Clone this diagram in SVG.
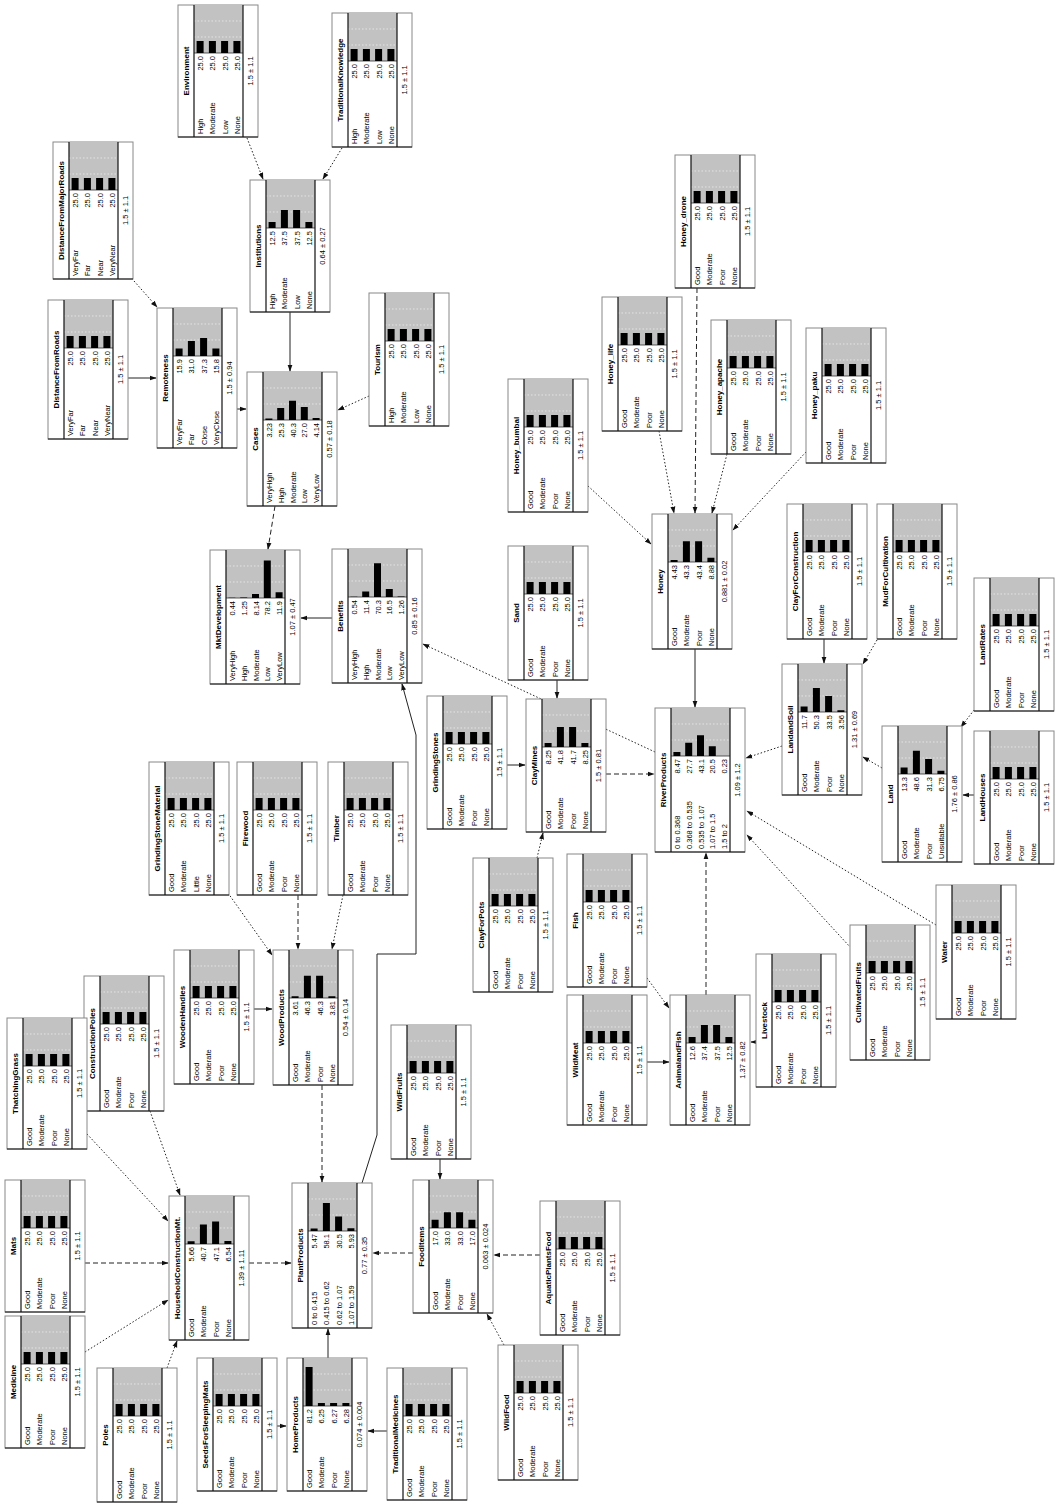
<svg xmlns="http://www.w3.org/2000/svg" width="1055" height="1504" viewBox="0 0 1055 1504">
<style>
.box{fill:#fff;stroke:#888;stroke-width:1}
.sep{fill:none;stroke:#111;stroke-width:1.2}
.hist{fill:#c2c2c2}
.grid{stroke:#ececec;stroke-width:.8;stroke-dasharray:1.5 2;fill:none}
.base{stroke:#333;stroke-width:.8;fill:none}
.bar{fill:#000}
text{font-family:"Liberation Sans",Arial,sans-serif;font-size:7.5px;fill:#000}
.t{font-weight:bold;font-size:8px;text-anchor:middle}
.v{text-anchor:end}
.s{text-anchor:start}
.m{text-anchor:middle}
.c{fill:none;stroke:#222;stroke-width:1;marker-end:url(#ah)}
.dash{stroke-dasharray:5 3}
.dot{stroke-dasharray:1.5 2}
</style>
<defs>
<marker id="ah" viewBox="0 0 10 10" refX="9" refY="5" markerWidth="7" markerHeight="7" markerUnits="userSpaceOnUse" orient="auto"><path d="M0 1.5L10 5L0 8.5z" fill="#111"/></marker>
<g id="h4"><rect class="hist" x="16" width="49" height="48"/><path class="grid" d="M16 16h49M16 32h49"/><path class="base" d="M16 48h49"/></g>
<g id="h5"><rect class="hist" x="16" width="59" height="48"/><path class="grid" d="M16 16h59M16 32h59"/><path class="base" d="M16 48h59"/></g>
<path id="b25" class="bar" d="M18.6 36h7v12h-7zM30.9 36h7v12h-7zM43.1 36h7v12h-7zM55.4 36h7v12h-7z"/>
<g id="v25"><text class="v" transform="translate(25.1,51) rotate(-90)">25.0</text><text class="v" transform="translate(37.4,51) rotate(-90)">25.0</text><text class="v" transform="translate(49.6,51) rotate(-90)">25.0</text><text class="v" transform="translate(61.9,51) rotate(-90)">25.0</text></g>
<g id="sGMPN"><text class="s" transform="translate(25.1,0) rotate(-90)">Good</text><text class="s" transform="translate(37.4,0) rotate(-90)">Moderate</text><text class="s" transform="translate(49.6,0) rotate(-90)">Poor</text><text class="s" transform="translate(61.9,0) rotate(-90)">None</text></g>
<g id="sHMLN"><text class="s" transform="translate(25.1,0) rotate(-90)">High</text><text class="s" transform="translate(37.4,0) rotate(-90)">Moderate</text><text class="s" transform="translate(49.6,0) rotate(-90)">Low</text><text class="s" transform="translate(61.9,0) rotate(-90)">None</text></g>
<g id="sVFN"><text class="s" transform="translate(25.1,0) rotate(-90)">VeryFar</text><text class="s" transform="translate(37.4,0) rotate(-90)">Far</text><text class="s" transform="translate(49.6,0) rotate(-90)">Near</text><text class="s" transform="translate(61.9,0) rotate(-90)">VeryNear</text></g>
<g id="sGMLN"><text class="s" transform="translate(25.1,0) rotate(-90)">Good</text><text class="s" transform="translate(37.4,0) rotate(-90)">Moderate</text><text class="s" transform="translate(49.6,0) rotate(-90)">Little</text><text class="s" transform="translate(61.9,0) rotate(-90)">None</text></g>
<g id="s5"><text class="s" transform="translate(24.9,0) rotate(-90)">VeryHigh</text><text class="s" transform="translate(36.7,0) rotate(-90)">High</text><text class="s" transform="translate(48.5,0) rotate(-90)">Moderate</text><text class="s" transform="translate(60.3,0) rotate(-90)">Low</text><text class="s" transform="translate(72.1,0) rotate(-90)">VeryLow</text></g>
</defs>
<rect width="1055" height="1504" fill="#fff"/>

<g id="connectors">
<path class="c dot" d="M247 138L263 179"/>
<path class="c dot" d="M342 148L323 179"/>
<path class="c dot" d="M134 281L157 307"/>
<path class="c" d="M290 312V371"/>
<path class="c" d="M128 378H156"/>
<path class="c" d="M237 409H246"/>
<path class="c dot" d="M369 396L338 410"/>
<path class="c dash" d="M275 506L268 549"/>
<path class="c" d="M332 618H301"/>
<path class="c dot" d="M655 752L423 644"/>
<path class="c" d="M362 1183L377 1135V954H416V735L402 684"/>
<path class="c" d="M557 680V698"/>
<path class="c" d="M507 765H525"/>
<path class="c dash" d="M606 774H654"/>
<path class="c dot" d="M537 858L543 833"/>
<path class="c dot" d="M588 486L651 544"/>
<path class="c dot" d="M659 431L674 513"/>
<path class="c dash" d="M697 288L695 513"/>
<path class="c dot" d="M727 454L712 513"/>
<path class="c dot" d="M806 452L733 530"/>
<path class="c" d="M695 649V707"/>
<path class="c" d="M824 639V663"/>
<path class="c dot" d="M877 640L863 664"/>
<path class="c dot" d="M782 746L746 758"/>
<path class="c dot" d="M974 710L961 727"/>
<path class="c dot" d="M882 768L863 757"/>
<path class="c" d="M975 795H963"/>
<path class="c dot" d="M936 925L747 811"/>
<path class="c dot" d="M851 948L747 835"/>
<path class="c dash" d="M706 995V853"/>
<path class="c dot" d="M647 978L669 1008"/>
<path class="c" d="M647 1062H669"/>
<path class="c" d="M758 1042H751"/>
<path class="c dot" d="M228 893L272 955"/>
<path class="c dash" d="M298 895V949"/>
<path class="c dot" d="M343 895L332 949"/>
<path class="c" d="M254 1009H272"/>
<path class="c dash" d="M322 1085V1182"/>
<path class="c dot" d="M150 1111L180 1195"/>
<path class="c dot" d="M87 1134L168 1221"/>
<path class="c dash" d="M85 1263H168"/>
<path class="c dot" d="M85 1352L168 1300"/>
<path class="c dot" d="M167 1368L177 1341"/>
<path class="c dash" d="M249 1263H291"/>
<path class="c" d="M277 1426H286"/>
<path class="c" d="M328 1358V1329"/>
<path class="c" d="M387 1431H368"/>
<path class="c dash" d="M413 1253H373"/>
<path class="c" d="M440 1159V1179"/>
<path class="c dash" d="M540 1255H494"/>
<path class="c dot" d="M504 1345L487 1314"/>
</g>

<g id="n-environment" transform="translate(178,5)"><rect class="box" width="80" height="132"/><use href="#h4"/><use href="#b25"/><path class="sep" d="M16 0V132M65 0V132M0 132H80"/><text class="t" transform="translate(11,66) rotate(-90)">Environment</text><use href="#v25"/><use href="#sHMLN" y="129"/><text class="m" transform="translate(75.3,66) rotate(-90)">1.5 ± 1.1</text></g>

<g id="n-traditionalknowledge" transform="translate(332,13)"><rect class="box" width="80" height="134"/><use href="#h4"/><use href="#b25"/><path class="sep" d="M16 0V134M65 0V134M0 134H80"/><text class="t" transform="translate(11,67) rotate(-90)">TraditionalKnowledge</text><use href="#v25"/><use href="#sHMLN" y="131"/><text class="m" transform="translate(75.3,67) rotate(-90)">1.5 ± 1.1</text></g>

<g id="n-distancefrommajorroads" transform="translate(53,142)"><rect class="box" width="80" height="137"/><use href="#h4"/><use href="#b25"/><path class="sep" d="M16 0V137M65 0V137M0 137H80"/><text class="t" transform="translate(11,68.5) rotate(-90)">DistanceFromMajorRoads</text><use href="#v25"/><use href="#sVFN" y="134"/><text class="m" transform="translate(75.3,68.5) rotate(-90)">1.5 ± 1.1</text></g>

<g id="n-institutions" transform="translate(250,180)"><rect class="box" width="80" height="132"/><use href="#h4"/><path class="bar" d="M18.6 42h7v6h-7zM30.9 30h7v18h-7zM43.1 30h7v18h-7zM55.4 42h7v6h-7z"/><path class="sep" d="M16 0V132M65 0V132M0 132H80"/><text class="t" transform="translate(11,66) rotate(-90)">Institutions</text><text class="v" transform="translate(25.1,51) rotate(-90)">12.5</text><text class="v" transform="translate(37.4,51) rotate(-90)">37.5</text><text class="v" transform="translate(49.6,51) rotate(-90)">37.5</text><text class="v" transform="translate(61.9,51) rotate(-90)">12.5</text><use href="#sHMLN" y="129"/><text class="m" transform="translate(75.3,66) rotate(-90)">0.64 ± 0.27</text></g>

<g id="n-distancefromroads" transform="translate(48,300)"><rect class="box" width="80" height="139"/><use href="#h4"/><use href="#b25"/><path class="sep" d="M16 0V139M65 0V139M0 139H80"/><text class="t" transform="translate(11,69.5) rotate(-90)">DistanceFromRoads</text><use href="#v25"/><use href="#sVFN" y="136"/><text class="m" transform="translate(75.3,69.5) rotate(-90)">1.5 ± 1.1</text></g>

<g id="n-remoteness" transform="translate(157,308)"><rect class="box" width="80" height="140"/><use href="#h4"/><path class="bar" d="M18.6 40.4h7v7.6h-7zM30.9 33.1h7v14.9h-7zM43.1 30.1h7v17.9h-7zM55.4 40.4h7v7.6h-7z"/><path class="sep" d="M16 0V140M65 0V140M0 140H80"/><text class="t" transform="translate(11,70) rotate(-90)">Remoteness</text><text class="v" transform="translate(25.1,51) rotate(-90)">15.9</text><text class="v" transform="translate(37.4,51) rotate(-90)">31.0</text><text class="v" transform="translate(49.6,51) rotate(-90)">37.3</text><text class="v" transform="translate(61.9,51) rotate(-90)">15.8</text><text class="s" transform="translate(25.1,137) rotate(-90)">VeryFar</text><text class="s" transform="translate(37.4,137) rotate(-90)">Far</text><text class="s" transform="translate(49.6,137) rotate(-90)">Close</text><text class="s" transform="translate(61.9,137) rotate(-90)">VeryClose</text><text class="m" transform="translate(75.3,70) rotate(-90)">1.5 ± 0.94</text></g>

<g id="n-cases" transform="translate(247,372)"><rect class="box" width="90" height="134"/><use href="#h5"/><path class="bar" d="M18.4 46.4h7v1.6h-7zM30.2 35.9h7v12.1h-7zM42 28.7h7v19.3h-7zM53.8 35h7v13h-7zM65.6 46h7v2h-7z"/><path class="sep" d="M16 0V134M75 0V134M0 134H90"/><text class="t" transform="translate(11,67) rotate(-90)">Cases</text><text class="v" transform="translate(24.9,51) rotate(-90)">3.23</text><text class="v" transform="translate(36.7,51) rotate(-90)">25.3</text><text class="v" transform="translate(48.5,51) rotate(-90)">40.3</text><text class="v" transform="translate(60.3,51) rotate(-90)">27.0</text><text class="v" transform="translate(72.1,51) rotate(-90)">4.14</text><use href="#s5" y="131"/><text class="m" transform="translate(85.3,67) rotate(-90)">0.57 ± 0.18</text></g>

<g id="n-tourism" transform="translate(369,293)"><rect class="box" width="80" height="133"/><use href="#h4"/><use href="#b25"/><path class="sep" d="M16 0V133M65 0V133M0 133H80"/><text class="t" transform="translate(11,66.5) rotate(-90)">Tourism</text><use href="#v25"/><use href="#sHMLN" y="130"/><text class="m" transform="translate(75.3,66.5) rotate(-90)">1.5 ± 1.1</text></g>

<g id="n-mktdevelopment" transform="translate(210,550)"><rect class="box" width="90" height="134"/><use href="#h5"/><path class="bar" d="M18.4 47.8h7v0.2h-7zM30.2 47.4h7v0.6h-7zM42 44.1h7v3.9h-7zM53.8 10.5h7v37.5h-7zM65.6 42.3h7v5.7h-7z"/><path class="sep" d="M16 0V134M75 0V134M0 134H90"/><text class="t" transform="translate(11,67) rotate(-90)">MktDevelopment</text><text class="v" transform="translate(24.9,51) rotate(-90)">0.44</text><text class="v" transform="translate(36.7,51) rotate(-90)">1.25</text><text class="v" transform="translate(48.5,51) rotate(-90)">8.14</text><text class="v" transform="translate(60.3,51) rotate(-90)">78.2</text><text class="v" transform="translate(72.1,51) rotate(-90)">11.9</text><use href="#s5" y="131"/><text class="m" transform="translate(85.3,67) rotate(-90)">1.07 ± 0.47</text></g>

<g id="n-benefits" transform="translate(332,549)"><rect class="box" width="90" height="134"/><use href="#h5"/><path class="bar" d="M18.4 47.7h7v0.3h-7zM30.2 42.5h7v5.5h-7zM42 14.3h7v33.7h-7zM53.8 40.1h7v7.9h-7zM65.6 47.4h7v0.6h-7z"/><path class="sep" d="M16 0V134M75 0V134M0 134H90"/><text class="t" transform="translate(11,67) rotate(-90)">Benefits</text><text class="v" transform="translate(24.9,51) rotate(-90)">0.54</text><text class="v" transform="translate(36.7,51) rotate(-90)">11.4</text><text class="v" transform="translate(48.5,51) rotate(-90)">70.3</text><text class="v" transform="translate(60.3,51) rotate(-90)">16.5</text><text class="v" transform="translate(72.1,51) rotate(-90)">1.26</text><use href="#s5" y="131"/><text class="m" transform="translate(85.3,67) rotate(-90)">0.85 ± 0.16</text></g>

<g id="n-honey-bumbal" transform="translate(508,379)"><rect class="box" width="80" height="133"/><use href="#h4"/><use href="#b25"/><path class="sep" d="M16 0V133M65 0V133M0 133H80"/><text class="t" transform="translate(11,66.5) rotate(-90)">Honey_bumbal</text><use href="#v25"/><use href="#sGMPN" y="130"/><text class="m" transform="translate(75.3,66.5) rotate(-90)">1.5 ± 1.1</text></g>

<g id="n-sand" transform="translate(508,546)"><rect class="box" width="80" height="134"/><use href="#h4"/><use href="#b25"/><path class="sep" d="M16 0V134M65 0V134M0 134H80"/><text class="t" transform="translate(11,67) rotate(-90)">Sand</text><use href="#v25"/><use href="#sGMPN" y="131"/><text class="m" transform="translate(75.3,67) rotate(-90)">1.5 ± 1.1</text></g>

<g id="n-honey-life" transform="translate(602,297)"><rect class="box" width="80" height="134"/><use href="#h4"/><use href="#b25"/><path class="sep" d="M16 0V134M65 0V134M0 134H80"/><text class="t" transform="translate(11,67) rotate(-90)">Honey_life</text><use href="#v25"/><use href="#sGMPN" y="131"/><text class="m" transform="translate(75.3,67) rotate(-90)">1.5 ± 1.1</text></g>

<g id="n-honey-drone" transform="translate(675,155)"><rect class="box" width="80" height="133"/><use href="#h4"/><use href="#b25"/><path class="sep" d="M16 0V133M65 0V133M0 133H80"/><text class="t" transform="translate(11,66.5) rotate(-90)">Honey_drone</text><use href="#v25"/><use href="#sGMPN" y="130"/><text class="m" transform="translate(75.3,66.5) rotate(-90)">1.5 ± 1.1</text></g>

<g id="n-honey-apache" transform="translate(711,320)"><rect class="box" width="80" height="134"/><use href="#h4"/><use href="#b25"/><path class="sep" d="M16 0V134M65 0V134M0 134H80"/><text class="t" transform="translate(11,67) rotate(-90)">Honey_apache</text><use href="#v25"/><use href="#sGMPN" y="131"/><text class="m" transform="translate(75.3,67) rotate(-90)">1.5 ± 1.1</text></g>

<g id="n-honey-paku" transform="translate(806,328)"><rect class="box" width="80" height="135"/><use href="#h4"/><use href="#b25"/><path class="sep" d="M16 0V135M65 0V135M0 135H80"/><text class="t" transform="translate(11,67.5) rotate(-90)">Honey_paku</text><use href="#v25"/><use href="#sGMPN" y="132"/><text class="m" transform="translate(75.3,67.5) rotate(-90)">1.5 ± 1.1</text></g>

<g id="n-honey" transform="translate(652,514)"><rect class="box" width="80" height="135"/><use href="#h4"/><path class="bar" d="M18.6 45.9h7v2.1h-7zM30.9 27.2h7v20.8h-7zM43.1 27.2h7v20.8h-7zM55.4 43.7h7v4.3h-7z"/><path class="sep" d="M16 0V135M65 0V135M0 135H80"/><text class="t" transform="translate(11,67.5) rotate(-90)">Honey</text><text class="v" transform="translate(25.1,51) rotate(-90)">4.43</text><text class="v" transform="translate(37.4,51) rotate(-90)">43.3</text><text class="v" transform="translate(49.6,51) rotate(-90)">43.4</text><text class="v" transform="translate(61.9,51) rotate(-90)">8.88</text><use href="#sGMPN" y="132"/><text class="m" transform="translate(75.3,67.5) rotate(-90)">0.881 ± 0.02</text></g>

<g id="n-clayforconstruction" transform="translate(787,504)"><rect class="box" width="80" height="135"/><use href="#h4"/><use href="#b25"/><path class="sep" d="M16 0V135M65 0V135M0 135H80"/><text class="t" transform="translate(11,67.5) rotate(-90)">ClayForConstruction</text><use href="#v25"/><use href="#sGMPN" y="132"/><text class="m" transform="translate(75.3,67.5) rotate(-90)">1.5 ± 1.1</text></g>

<g id="n-mudforcultivation" transform="translate(877,504)"><rect class="box" width="80" height="135"/><use href="#h4"/><use href="#b25"/><path class="sep" d="M16 0V135M65 0V135M0 135H80"/><text class="t" transform="translate(11,67.5) rotate(-90)">MudForCultivation</text><use href="#v25"/><use href="#sGMPN" y="132"/><text class="m" transform="translate(75.3,67.5) rotate(-90)">1.5 ± 1.1</text></g>

<g id="n-landandsoil" transform="translate(782,664)"><rect class="box" width="80" height="131"/><use href="#h4"/><path class="bar" d="M18.6 42.4h7v5.6h-7zM30.9 23.9h7v24.1h-7zM43.1 31.9h7v16.1h-7zM55.4 46.3h7v1.7h-7z"/><path class="sep" d="M16 0V131M65 0V131M0 131H80"/><text class="t" transform="translate(11,65.5) rotate(-90)">LandandSoil</text><text class="v" transform="translate(25.1,51) rotate(-90)">11.7</text><text class="v" transform="translate(37.4,51) rotate(-90)">50.3</text><text class="v" transform="translate(49.6,51) rotate(-90)">33.5</text><text class="v" transform="translate(61.9,51) rotate(-90)">3.56</text><use href="#sGMPN" y="128"/><text class="m" transform="translate(75.3,65.5) rotate(-90)">1.31 ± 0.69</text></g>

<g id="n-landrates" transform="translate(974,578)"><rect class="box" width="80" height="133"/><use href="#h4"/><use href="#b25"/><path class="sep" d="M16 0V133M65 0V133M0 133H80"/><text class="t" transform="translate(11,66.5) rotate(-90)">LandRates</text><use href="#v25"/><use href="#sGMPN" y="130"/><text class="m" transform="translate(75.3,66.5) rotate(-90)">1.5 ± 1.1</text></g>

<g id="n-land" transform="translate(882,726)"><rect class="box" width="80" height="136"/><use href="#h4"/><path class="bar" d="M18.6 41.6h7v6.4h-7zM30.9 24.7h7v23.3h-7zM43.1 33h7v15h-7zM55.4 44.8h7v3.2h-7z"/><path class="sep" d="M16 0V136M65 0V136M0 136H80"/><text class="t" transform="translate(11,68) rotate(-90)">Land</text><text class="v" transform="translate(25.1,51) rotate(-90)">13.3</text><text class="v" transform="translate(37.4,51) rotate(-90)">48.6</text><text class="v" transform="translate(49.6,51) rotate(-90)">31.3</text><text class="v" transform="translate(61.9,51) rotate(-90)">6.75</text><text class="s" transform="translate(25.1,133) rotate(-90)">Good</text><text class="s" transform="translate(37.4,133) rotate(-90)">Moderate</text><text class="s" transform="translate(49.6,133) rotate(-90)">Poor</text><text class="s" transform="translate(61.9,133) rotate(-90)">Unsuitable</text><text class="m" transform="translate(75.3,68) rotate(-90)">1.76 ± 0.86</text></g>

<g id="n-landhouses" transform="translate(974,731)"><rect class="box" width="80" height="133"/><use href="#h4"/><use href="#b25"/><path class="sep" d="M16 0V133M65 0V133M0 133H80"/><text class="t" transform="translate(11,66.5) rotate(-90)">LandHouses</text><use href="#v25"/><use href="#sGMPN" y="130"/><text class="m" transform="translate(75.3,66.5) rotate(-90)">1.5 ± 1.1</text></g>

<g id="n-water" transform="translate(936,885)"><rect class="box" width="80" height="134"/><use href="#h4"/><use href="#b25"/><path class="sep" d="M16 0V134M65 0V134M0 134H80"/><text class="t" transform="translate(11,67) rotate(-90)">Water</text><use href="#v25"/><use href="#sGMPN" y="131"/><text class="m" transform="translate(75.3,67) rotate(-90)">1.5 ± 1.1</text></g>

<g id="n-cultivatedfruits" transform="translate(850,925)"><rect class="box" width="80" height="135"/><use href="#h4"/><use href="#b25"/><path class="sep" d="M16 0V135M65 0V135M0 135H80"/><text class="t" transform="translate(11,67.5) rotate(-90)">CultivatedFruits</text><use href="#v25"/><use href="#sGMPN" y="132"/><text class="m" transform="translate(75.3,67.5) rotate(-90)">1.5 ± 1.1</text></g>

<g id="n-livestock" transform="translate(756,954)"><rect class="box" width="80" height="133"/><use href="#h4"/><use href="#b25"/><path class="sep" d="M16 0V133M65 0V133M0 133H80"/><text class="t" transform="translate(11,66.5) rotate(-90)">Livestock</text><use href="#v25"/><use href="#sGMPN" y="130"/><text class="m" transform="translate(75.3,66.5) rotate(-90)">1.5 ± 1.1</text></g>

<g id="n-animalandfish" transform="translate(670,995)"><rect class="box" width="80" height="130"/><use href="#h4"/><path class="bar" d="M18.6 42h7v6h-7zM30.9 30h7v18h-7zM43.1 30h7v18h-7zM55.4 42h7v6h-7z"/><path class="sep" d="M16 0V130M65 0V130M0 130H80"/><text class="t" transform="translate(11,65) rotate(-90)">AnimalandFish</text><text class="v" transform="translate(25.1,51) rotate(-90)">12.6</text><text class="v" transform="translate(37.4,51) rotate(-90)">37.4</text><text class="v" transform="translate(49.6,51) rotate(-90)">37.5</text><text class="v" transform="translate(61.9,51) rotate(-90)">12.5</text><use href="#sGMPN" y="127"/><text class="m" transform="translate(75.3,65) rotate(-90)">1.37 ± 0.82</text></g>

<g id="n-wildmeat" transform="translate(567,995)"><rect class="box" width="80" height="130"/><use href="#h4"/><use href="#b25"/><path class="sep" d="M16 0V130M65 0V130M0 130H80"/><text class="t" transform="translate(11,65) rotate(-90)">WildMeat</text><use href="#v25"/><use href="#sGMPN" y="127"/><text class="m" transform="translate(75.3,65) rotate(-90)">1.5 ± 1.1</text></g>

<g id="n-fish" transform="translate(567,854)"><rect class="box" width="80" height="133"/><use href="#h4"/><use href="#b25"/><path class="sep" d="M16 0V133M65 0V133M0 133H80"/><text class="t" transform="translate(11,66.5) rotate(-90)">Fish</text><use href="#v25"/><use href="#sGMPN" y="130"/><text class="m" transform="translate(75.3,66.5) rotate(-90)">1.5 ± 1.1</text></g>

<g id="n-clayforpots" transform="translate(473,858)"><rect class="box" width="80" height="134"/><use href="#h4"/><use href="#b25"/><path class="sep" d="M16 0V134M65 0V134M0 134H80"/><text class="t" transform="translate(11,67) rotate(-90)">ClayForPots</text><use href="#v25"/><use href="#sGMPN" y="131"/><text class="m" transform="translate(75.3,67) rotate(-90)">1.5 ± 1.1</text></g>

<g id="n-claymines" transform="translate(526,699)"><rect class="box" width="80" height="133"/><use href="#h4"/><path class="bar" d="M18.6 44h7v4h-7zM30.9 27.9h7v20.1h-7zM43.1 28h7v20h-7zM55.4 44h7v4h-7z"/><path class="sep" d="M16 0V133M65 0V133M0 133H80"/><text class="t" transform="translate(11,66.5) rotate(-90)">ClayMines</text><text class="v" transform="translate(25.1,51) rotate(-90)">8.25</text><text class="v" transform="translate(37.4,51) rotate(-90)">41.8</text><text class="v" transform="translate(49.6,51) rotate(-90)">41.7</text><text class="v" transform="translate(61.9,51) rotate(-90)">8.25</text><use href="#sGMPN" y="130"/><text class="m" transform="translate(75.3,66.5) rotate(-90)">1.5 ± 0.81</text></g>

<g id="n-grindingstones" transform="translate(427,696)"><rect class="box" width="80" height="133"/><use href="#h4"/><use href="#b25"/><path class="sep" d="M16 0V133M65 0V133M0 133H80"/><text class="t" transform="translate(11,66.5) rotate(-90)">GrindingStones</text><use href="#v25"/><use href="#sGMPN" y="130"/><text class="m" transform="translate(75.3,66.5) rotate(-90)">1.5 ± 1.1</text></g>

<g id="n-riverproducts" transform="translate(655,708)"><rect class="box" width="90" height="144"/><use href="#h5"/><path class="bar" d="M18.4 43.9h7v4.1h-7zM30.2 34.7h7v13.3h-7zM42 27.3h7v20.7h-7zM53.8 38.2h7v9.8h-7zM65.6 47.9h7v0.1h-7z"/><path class="sep" d="M16 0V144M75 0V144M0 144H90"/><text class="t" transform="translate(11,72) rotate(-90)">RiverProducts</text><text class="v" transform="translate(24.9,51) rotate(-90)">8.47</text><text class="v" transform="translate(36.7,51) rotate(-90)">27.7</text><text class="v" transform="translate(48.5,51) rotate(-90)">43.1</text><text class="v" transform="translate(60.3,51) rotate(-90)">20.5</text><text class="v" transform="translate(72.1,51) rotate(-90)">0.23</text><text class="s" transform="translate(24.9,141) rotate(-90)">0 to 0.368</text><text class="s" transform="translate(36.7,141) rotate(-90)">0.368 to 0.535</text><text class="s" transform="translate(48.5,141) rotate(-90)">0.535 to 1.07</text><text class="s" transform="translate(60.3,141) rotate(-90)">1.07 to 1.5</text><text class="s" transform="translate(72.1,141) rotate(-90)">1.5 to 2</text><text class="m" transform="translate(85.3,72) rotate(-90)">1.09 ± 1.2</text></g>

<g id="n-grindingstonematerial" transform="translate(149,762)"><rect class="box" width="80" height="133"/><use href="#h4"/><use href="#b25"/><path class="sep" d="M16 0V133M65 0V133M0 133H80"/><text class="t" transform="translate(11,66.5) rotate(-90)">GrindingStoneMaterial</text><use href="#v25"/><use href="#sGMLN" y="130"/><text class="m" transform="translate(75.3,66.5) rotate(-90)">1.5 ± 1.1</text></g>

<g id="n-firewood" transform="translate(237,762)"><rect class="box" width="80" height="133"/><use href="#h4"/><use href="#b25"/><path class="sep" d="M16 0V133M65 0V133M0 133H80"/><text class="t" transform="translate(11,66.5) rotate(-90)">Firewood</text><use href="#v25"/><use href="#sGMPN" y="130"/><text class="m" transform="translate(75.3,66.5) rotate(-90)">1.5 ± 1.1</text></g>

<g id="n-timber" transform="translate(328,762)"><rect class="box" width="80" height="133"/><use href="#h4"/><use href="#b25"/><path class="sep" d="M16 0V133M65 0V133M0 133H80"/><text class="t" transform="translate(11,66.5) rotate(-90)">Timber</text><use href="#v25"/><use href="#sGMPN" y="130"/><text class="m" transform="translate(75.3,66.5) rotate(-90)">1.5 ± 1.1</text></g>

<g id="n-woodproducts" transform="translate(273,950)"><rect class="box" width="80" height="135"/><use href="#h4"/><path class="bar" d="M18.6 46.3h7v1.7h-7zM30.9 25.8h7v22.2h-7zM43.1 25.8h7v22.2h-7zM55.4 46.2h7v1.8h-7z"/><path class="sep" d="M16 0V135M65 0V135M0 135H80"/><text class="t" transform="translate(11,67.5) rotate(-90)">WoodProducts</text><text class="v" transform="translate(25.1,51) rotate(-90)">3.61</text><text class="v" transform="translate(37.4,51) rotate(-90)">46.3</text><text class="v" transform="translate(49.6,51) rotate(-90)">46.3</text><text class="v" transform="translate(61.9,51) rotate(-90)">3.81</text><use href="#sGMPN" y="132"/><text class="m" transform="translate(75.3,67.5) rotate(-90)">0.54 ± 0.14</text></g>

<g id="n-woodenhandles" transform="translate(174,950)"><rect class="box" width="80" height="134"/><use href="#h4"/><use href="#b25"/><path class="sep" d="M16 0V134M65 0V134M0 134H80"/><text class="t" transform="translate(11,67) rotate(-90)">WoodenHandles</text><use href="#v25"/><use href="#sGMPN" y="131"/><text class="m" transform="translate(75.3,67) rotate(-90)">1.5 ± 1.1</text></g>

<g id="n-constructionpoles" transform="translate(84,976)"><rect class="box" width="80" height="135"/><use href="#h4"/><use href="#b25"/><path class="sep" d="M16 0V135M65 0V135M0 135H80"/><text class="t" transform="translate(11,67.5) rotate(-90)">ConstructionPoles</text><use href="#v25"/><use href="#sGMPN" y="132"/><text class="m" transform="translate(75.3,67.5) rotate(-90)">1.5 ± 1.1</text></g>

<g id="n-thatchinggrass" transform="translate(7,1018)"><rect class="box" width="80" height="131"/><use href="#h4"/><use href="#b25"/><path class="sep" d="M16 0V131M65 0V131M0 131H80"/><text class="t" transform="translate(11,65.5) rotate(-90)">ThatchingGrass</text><use href="#v25"/><use href="#sGMPN" y="128"/><text class="m" transform="translate(75.3,65.5) rotate(-90)">1.5 ± 1.1</text></g>

<g id="n-mats" transform="translate(5,1180)"><rect class="box" width="80" height="132"/><use href="#h4"/><use href="#b25"/><path class="sep" d="M16 0V132M65 0V132M0 132H80"/><text class="t" transform="translate(11,66) rotate(-90)">Mats</text><use href="#v25"/><use href="#sGMPN" y="129"/><text class="m" transform="translate(75.3,66) rotate(-90)">1.5 ± 1.1</text></g>

<g id="n-medicine" transform="translate(5,1316)"><rect class="box" width="80" height="132"/><use href="#h4"/><use href="#b25"/><path class="sep" d="M16 0V132M65 0V132M0 132H80"/><text class="t" transform="translate(11,66) rotate(-90)">Medicine</text><use href="#v25"/><use href="#sGMPN" y="129"/><text class="m" transform="translate(75.3,66) rotate(-90)">1.5 ± 1.1</text></g>

<g id="n-householdconstructionmt" transform="translate(169,1196)"><rect class="box" width="80" height="144"/><use href="#h4"/><path class="bar" d="M18.6 45.3h7v2.7h-7zM30.9 28.5h7v19.5h-7zM43.1 25.4h7v22.6h-7zM55.4 44.9h7v3.1h-7z"/><path class="sep" d="M16 0V144M65 0V144M0 144H80"/><text class="t" transform="translate(11,72) rotate(-90)">HouseholdConstructionMt.</text><text class="v" transform="translate(25.1,51) rotate(-90)">5.66</text><text class="v" transform="translate(37.4,51) rotate(-90)">40.7</text><text class="v" transform="translate(49.6,51) rotate(-90)">47.1</text><text class="v" transform="translate(61.9,51) rotate(-90)">6.54</text><use href="#sGMPN" y="141"/><text class="m" transform="translate(75.3,72) rotate(-90)">1.39 ± 1.11</text></g>

<g id="n-poles" transform="translate(97,1368)"><rect class="box" width="80" height="134"/><use href="#h4"/><use href="#b25"/><path class="sep" d="M16 0V134M65 0V134M0 134H80"/><text class="t" transform="translate(11,67) rotate(-90)">Poles</text><use href="#v25"/><use href="#sGMPN" y="131"/><text class="m" transform="translate(75.3,67) rotate(-90)">1.5 ± 1.1</text></g>

<g id="n-seedsforsleepingmats" transform="translate(197,1358)"><rect class="box" width="80" height="133"/><use href="#h4"/><use href="#b25"/><path class="sep" d="M16 0V133M65 0V133M0 133H80"/><text class="t" transform="translate(11,66.5) rotate(-90)">SeedsForSleepingMats</text><use href="#v25"/><use href="#sGMPN" y="130"/><text class="m" transform="translate(75.3,66.5) rotate(-90)">1.5 ± 1.1</text></g>

<g id="n-homeproducts" transform="translate(287,1358)"><rect class="box" width="80" height="133"/><use href="#h4"/><path class="bar" d="M18.6 9h7v39h-7zM30.9 45h7v3h-7zM43.1 45h7v3h-7zM55.4 45h7v3h-7z"/><path class="sep" d="M16 0V133M65 0V133M0 133H80"/><text class="t" transform="translate(11,66.5) rotate(-90)">HomeProducts</text><text class="v" transform="translate(25.1,51) rotate(-90)">81.2</text><text class="v" transform="translate(37.4,51) rotate(-90)">6.25</text><text class="v" transform="translate(49.6,51) rotate(-90)">6.27</text><text class="v" transform="translate(61.9,51) rotate(-90)">6.28</text><use href="#sGMPN" y="130"/><text class="m" transform="translate(75.3,66.5) rotate(-90)">0.074 ± 0.004</text></g>

<g id="n-plantproducts" transform="translate(292,1183)"><rect class="box" width="80" height="145"/><use href="#h4"/><path class="bar" d="M18.6 45.4h7v2.6h-7zM30.9 20.1h7v27.9h-7zM43.1 33.4h7v14.6h-7zM55.4 45.2h7v2.8h-7z"/><path class="sep" d="M16 0V145M65 0V145M0 145H80"/><text class="t" transform="translate(11,72.5) rotate(-90)">PlantProducts</text><text class="v" transform="translate(25.1,51) rotate(-90)">5.47</text><text class="v" transform="translate(37.4,51) rotate(-90)">58.1</text><text class="v" transform="translate(49.6,51) rotate(-90)">30.5</text><text class="v" transform="translate(61.9,51) rotate(-90)">5.93</text><text class="s" transform="translate(25.1,142) rotate(-90)">0 to 0.415</text><text class="s" transform="translate(37.4,142) rotate(-90)">0.415 to 0.62</text><text class="s" transform="translate(49.6,142) rotate(-90)">0.62 to 1.07</text><text class="s" transform="translate(61.9,142) rotate(-90)">1.07 to 1.59</text><text class="m" transform="translate(75.3,72.5) rotate(-90)">0.77 ± 0.35</text></g>

<g id="n-traditionalmedicines" transform="translate(387,1368)"><rect class="box" width="80" height="132"/><use href="#h4"/><use href="#b25"/><path class="sep" d="M16 0V132M65 0V132M0 132H80"/><text class="t" transform="translate(11,66) rotate(-90)">TraditionalMedicines</text><use href="#v25"/><use href="#sGMPN" y="129"/><text class="m" transform="translate(75.3,66) rotate(-90)">1.5 ± 1.1</text></g>

<g id="n-wildfruits" transform="translate(391,1025)"><rect class="box" width="80" height="134"/><use href="#h4"/><use href="#b25"/><path class="sep" d="M16 0V134M65 0V134M0 134H80"/><text class="t" transform="translate(11,67) rotate(-90)">WildFruits</text><use href="#v25"/><use href="#sGMPN" y="131"/><text class="m" transform="translate(75.3,67) rotate(-90)">1.5 ± 1.1</text></g>

<g id="n-fooditems" transform="translate(413,1180)"><rect class="box" width="80" height="133"/><use href="#h4"/><path class="bar" d="M18.6 39.8h7v8.2h-7zM30.9 32.2h7v15.8h-7zM43.1 32.2h7v15.8h-7zM55.4 39.8h7v8.2h-7z"/><path class="sep" d="M16 0V133M65 0V133M0 133H80"/><text class="t" transform="translate(11,66.5) rotate(-90)">FoodItems</text><text class="v" transform="translate(25.1,51) rotate(-90)">17.0</text><text class="v" transform="translate(37.4,51) rotate(-90)">33.0</text><text class="v" transform="translate(49.6,51) rotate(-90)">33.0</text><text class="v" transform="translate(61.9,51) rotate(-90)">17.0</text><use href="#sGMPN" y="130"/><text class="m" transform="translate(75.3,66.5) rotate(-90)">0.063 ± 0.024</text></g>

<g id="n-aquaticplantsfood" transform="translate(540,1201)"><rect class="box" width="80" height="134"/><use href="#h4"/><use href="#b25"/><path class="sep" d="M16 0V134M65 0V134M0 134H80"/><text class="t" transform="translate(11,67) rotate(-90)">AquaticPlantsFood</text><use href="#v25"/><use href="#sGMPN" y="131"/><text class="m" transform="translate(75.3,67) rotate(-90)">1.5 ± 1.1</text></g>

<g id="n-wildfood" transform="translate(498,1345)"><rect class="box" width="80" height="135"/><use href="#h4"/><use href="#b25"/><path class="sep" d="M16 0V135M65 0V135M0 135H80"/><text class="t" transform="translate(11,67.5) rotate(-90)">WildFood</text><use href="#v25"/><use href="#sGMPN" y="132"/><text class="m" transform="translate(75.3,67.5) rotate(-90)">1.5 ± 1.1</text></g>
</svg>
